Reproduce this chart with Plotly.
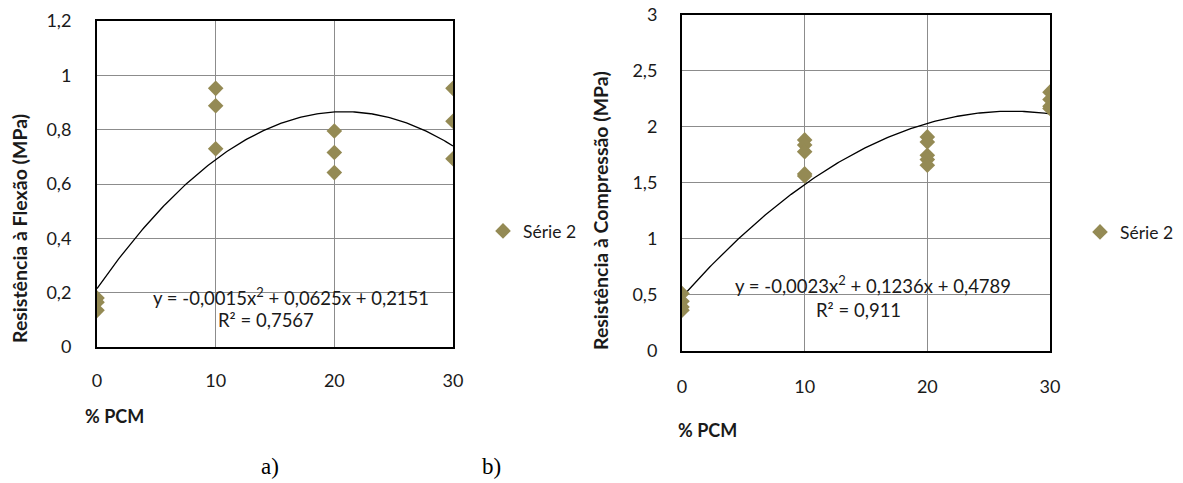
import numpy as np
import plotly.graph_objects as go

W, H = 1183, 483

# ---- Data: a) flexural strength ----
flex_x = [0, 0, 0, 10, 10, 10, 20, 20, 20, 30, 30, 30]
flex_y = [0.18, 0.165, 0.135, 0.952, 0.888, 0.730, 0.795, 0.716, 0.642, 0.952, 0.831, 0.693]
flex_coef = [-0.0015, 0.0625, 0.2151]   # a, b, c of trendline
flex_eq = "y = -0,0015x<sup>2</sup> + 0,0625x + 0,2151"
flex_r2 = "R² = 0,7567"

# ---- Data: b) compressive strength ----
comp_x = [0, 0, 0, 0, 10, 10, 10, 10, 10, 20, 20, 20, 20, 20, 30, 30, 30, 30]
comp_y = [0.51, 0.44, 0.39, 0.36, 1.883, 1.838, 1.778, 1.579, 1.56,
          1.91, 1.865, 1.746, 1.707, 1.656, 2.31, 2.245, 2.185, 2.164]
comp_coef = [-0.0023, 0.1236, 0.4789]
comp_eq = "y = -0,0023x<sup>2</sup> + 0,1236x + 0,4789"
comp_r2 = "R² = 0,911"

x_ticks = [0, 10, 20, 30]
flex_ticks = [0, 0.2, 0.4, 0.6, 0.8, 1.0, 1.2]
flex_ticklabels = ["0", "0,2", "0,4", "0,6", "0,8", "1", "1,2"]
comp_ticks = [0, 0.5, 1.0, 1.5, 2.0, 2.5, 3.0]
comp_ticklabels = ["0", "0,5", "1", "1,5", "2", "2,5", "3"]

series_name = "Série 2"
x_title = "% PCM"
flex_title = "Resistência à Flexão (MPa)"
comp_title = "Resistência à Compressão (MPa)"

MARKER_COLOR = "#948A54"
GRID = "#8c8c8c"
FONT = "Lato, Carlito, Calibri, sans-serif"
TXT = "#1a1a1a"

def px_x(p):
    return p / W

def px_y(p):
    return 1 - p / H

xt = np.linspace(0, 30, 200)

fig = go.Figure()

# Left chart
fig.add_trace(go.Scatter(x=xt, y=np.polyval(flex_coef, xt), mode="lines",
                         line=dict(color="black", width=1.3), showlegend=False,
                         xaxis="x", yaxis="y", hoverinfo="skip"))
fig.add_trace(go.Scatter(x=flex_x, y=flex_y, mode="markers", name=series_name,
                         marker=dict(symbol="diamond", size=12, color=MARKER_COLOR),
                         xaxis="x", yaxis="y", legend="legend"))
# Right chart
fig.add_trace(go.Scatter(x=xt, y=np.polyval(comp_coef, xt), mode="lines",
                         line=dict(color="black", width=1.3), showlegend=False,
                         xaxis="x2", yaxis="y2", hoverinfo="skip"))
fig.add_trace(go.Scatter(x=comp_x, y=comp_y, mode="markers", name=series_name,
                         marker=dict(symbol="diamond", size=12, color=MARKER_COLOR),
                         xaxis="x2", yaxis="y2", legend="legend2"))

axis_common = dict(showgrid=True, gridcolor=GRID, gridwidth=1.2, zeroline=False,
                   showline=True, linecolor="black", linewidth=2, mirror=True,
                   automargin=False,
                   ticks="", tickfont=dict(family=FONT, size=18, color=TXT))

fig.update_layout(
    width=W, height=H,
    paper_bgcolor="white", plot_bgcolor="white",
    margin=dict(l=0, r=0, t=0, b=0, autoexpand=False),
    font=dict(family=FONT, color=TXT),
    xaxis=dict(domain=[px_x(97), px_x(453)], range=[0, 30], tickvals=x_ticks,
               anchor="y", ticklabelstandoff=16, **axis_common),
    yaxis=dict(domain=[px_y(347), px_y(21)], range=[0, 1.2], tickvals=flex_ticks,
               ticktext=flex_ticklabels, anchor="x", ticklabelstandoff=20, **axis_common),
    xaxis2=dict(domain=[px_x(682), px_x(1050)], range=[0, 30], tickvals=x_ticks,
                anchor="y2", ticklabelstandoff=19, **axis_common),
    yaxis2=dict(domain=[px_y(350.5), px_y(15)], range=[0, 3], tickvals=comp_ticks,
                ticktext=comp_ticklabels, anchor="x2", ticklabelstandoff=19, **axis_common),
    legend=dict(x=px_x(483), y=px_y(231), xanchor="left", yanchor="middle",
                font=dict(family=FONT, size=17.5, color=TXT), bgcolor="rgba(0,0,0,0)",
                itemwidth=30, tracegroupgap=0),
    legend2=dict(x=px_x(1080), y=px_y(232), xanchor="left", yanchor="middle",
                 font=dict(family=FONT, size=17.5, color=TXT), bgcolor="rgba(0,0,0,0)",
                 itemwidth=30, tracegroupgap=0),
    showlegend=True,
)

ann = []
def text(x, y, s, size=15, bold=False, angle=0, family=FONT, xanchor="center"):
    ann.append(dict(x=px_x(x), y=px_y(y), xref="paper", yref="paper", text=("<b>%s</b>" % s) if bold else s,
                    showarrow=False, textangle=angle, xanchor=xanchor, yanchor="middle",
                    font=dict(family=family, size=size, color=TXT if family == FONT else "black")))

text(19, 229, flex_title, size=19.5, bold=True, angle=-90)
text(601, 210, comp_title, size=19.5, bold=True, angle=-90)
text(83, 416, x_title, size=18, bold=True, xanchor="left")
text(676, 430, x_title, size=18, bold=True, xanchor="left")
text(291, 296, flex_eq, size=18.5)
text(266, 320, flex_r2, size=18.5)
text(873, 284, comp_eq, size=18.5)
text(858, 310, comp_r2, size=18.5)
text(270, 466, "a)", size=23, family="Liberation Serif, Times New Roman, serif")
text(491, 466, "b)", size=23, family="Liberation Serif, Times New Roman, serif")
fig.update_layout(annotations=ann)

fig.write_html("out.html", config={"displayModeBar": False},
               post_script="document.body.style.margin='0px';document.documentElement.style.overflow='hidden';")
